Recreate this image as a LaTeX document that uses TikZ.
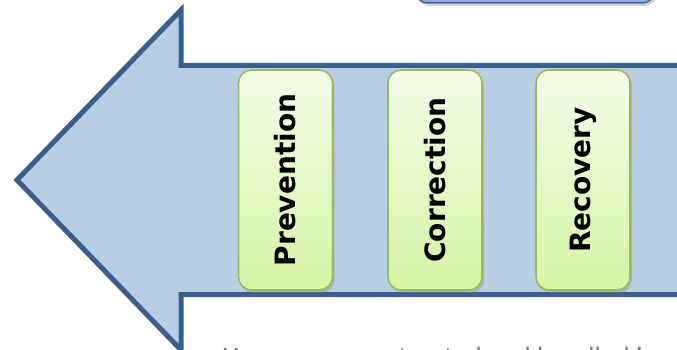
\documentclass[tikz,border=0pt]{standalone}
\usepackage{fontspec}
\newfontfamily\ofont{DejaVu Sans}
\newfontfamily\cfont{Carlito}
\usetikzlibrary{shadows}
\definecolor{arrowfill}{HTML}{B9CDE5}
\definecolor{arrowline}{HTML}{3A5F8B}
\definecolor{boxline}{HTML}{9BBB59}
\definecolor{boxtop}{HTML}{F4FDE9}
\definecolor{boxbot}{HTML}{D6F4A4}
\definecolor{tbtop}{HTML}{B3C6EE}
\definecolor{tbbot}{HTML}{8CA6DE}
\definecolor{tbline}{HTML}{4B6496}
\tikzset{
  stagebox/.style={draw=boxline, line width=1.6pt, rounded corners=13pt,
    top color=boxtop, bottom color=boxbot, minimum width=94pt, minimum height=220pt,
    drop shadow={shadow xshift=2pt, shadow yshift=-3pt, opacity=0.35}},
  stagelabel/.style={rotate=90, font=\ofont\bfseries\fontsize{28}{32}\selectfont, text=black},
  topbox/.style={draw=tbline, line width=1.5pt, rounded corners=14pt,
    top color=tbtop, bottom color=tbbot, minimum width=242pt, minimum height=50pt,
    drop shadow={shadow xshift=2pt, shadow yshift=-3pt, opacity=0.35}},
}
\begin{document}
\begin{tikzpicture}[x=1pt,y=-1pt]
\useasboundingbox (0,0) rectangle (677,350);
\fill[white] (0,0) rectangle (677,350);
% top partial box
\node[topbox] (tb) at (535,-22) {};
% big arrow
\draw[arrowline, fill=arrowfill, line width=5pt, line join=miter]
  (700,65.5) -- (181,65.5) -- (181,10) -- (17,180) -- (181,350) -- (181,294.5) -- (700,294.5);
% stage boxes
\node[stagebox] (p) at (285.5,180) {};
\node[stagelabel] (pl) at (p.center) {Prevention};
\node[stagebox] (c) at (435,180) {};
\node[stagelabel] (cl) at (c.center) {Correction};
\node[stagebox] (r) at (583,180) {};
\node[stagelabel] (rl) at (r.center) {Recovery};
% bottom partial text
\node[anchor=base west, inner sep=0pt, text=gray, font=\cfont\fontsize{28}{32}\selectfont] (bt) at (222,366) {How errors are treated and handled in};
\end{tikzpicture}
\end{document}
